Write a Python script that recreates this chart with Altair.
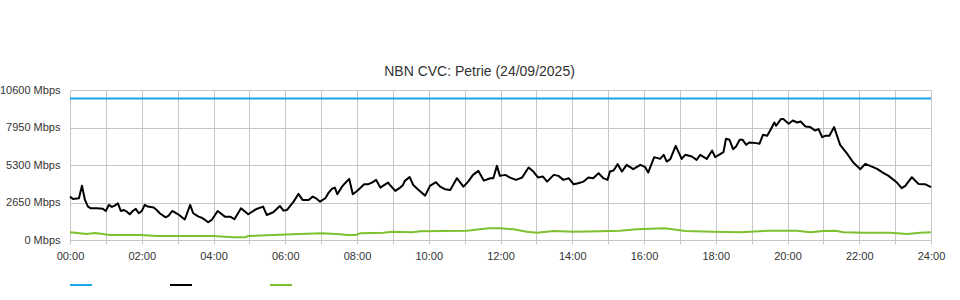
import altair as alt
import pandas as pd

# ---- data (minutes since midnight, Mbps) ----
capacity_min = [0, 1440]
capacity_val = [10000, 10000]

download_min = [0, 5, 15, 20, 25, 30, 35, 45, 55, 60, 65, 70, 75, 80, 85, 90, 95, 100, 105, 110,
                115, 120, 125, 130, 140, 145, 150, 160, 165, 171, 178, 184, 192, 201, 206, 215, 220,
                226, 231, 237, 247, 254, 259, 268, 275, 286, 298, 312, 323, 329, 340, 351, 357, 363,
                374, 382, 389, 399, 406, 413, 418, 427, 432, 438, 443, 447, 455, 460, 467, 473, 480,
                485, 492, 499, 505, 512, 519, 524, 532, 535, 544, 551, 557, 560, 568, 574, 583, 594,
                602, 612, 619, 627, 636, 647, 658, 666, 674, 683, 692, 703, 708, 714, 719, 728, 736,
                746, 756, 767, 775, 783, 791, 798, 809, 817, 825, 834, 842, 850, 859, 867, 875, 884,
                892, 899, 903, 909, 916, 923, 931, 942, 954, 962, 967, 977, 987, 993, 998, 1004, 1013,
                1023, 1029, 1040, 1048, 1054, 1065, 1074, 1079, 1093, 1097, 1103, 1109, 1114, 1120,
                1125, 1131, 1136, 1148, 1153, 1159, 1166, 1171, 1178, 1181, 1189, 1193, 1202, 1209,
                1216, 1222, 1230, 1238, 1246, 1252, 1258, 1263, 1270, 1278, 1288, 1299, 1310, 1322,
                1330, 1338, 1350, 1358, 1369, 1383, 1391, 1397, 1408, 1419, 1430, 1440]
download_val = [3066, 2900, 2950, 3840, 2830, 2360, 2240, 2240, 2200, 2050, 2480, 2340, 2430, 2600,
                2050, 2120, 2000, 1820, 2050, 2200, 1890, 2050, 2480, 2360, 2290, 2120, 1890, 1600,
                1720, 2050, 1890, 1720, 1450, 2478, 1889, 1650, 1580, 1416, 1253, 1416, 2053, 1818,
                1650, 1650, 1465, 2244, 1818, 2195, 2358, 1770, 1960, 2407, 2075, 2124, 2712, 3257,
                2832, 2832, 3066, 2903, 2712, 2952, 3306, 3611, 3703, 3235, 3774, 4014, 4319, 3235,
                3469, 3660, 3944, 3944, 4057, 4248, 3703, 3844, 4057, 3894, 3469, 3660, 3894, 4177,
                4450, 3894, 3540, 3136, 3822, 4085, 3774, 3589, 3540, 4368, 3774, 4127, 4602, 4885,
                4198, 4368, 4368, 5239, 4531, 4602, 4410, 4248, 4410, 5119, 4836, 4410, 4481, 4127,
                4602, 4531, 4248, 4368, 3944, 4014, 4128, 4411, 4368, 4722, 4368, 4248, 4836, 4906,
                5360, 4836, 5310, 5006, 5310, 5147, 4765, 5855, 5735, 6018, 5544, 5714, 6655, 5735,
                6018, 5898, 5664, 6018, 5735, 6322, 5855, 6209, 7151, 7080, 6422, 6606, 7080, 7080,
                6726, 6889, 6846, 6797, 7434, 7363, 7738, 8305, 8071, 8546, 8546, 8213, 8446, 8305,
                8376, 8022, 7979, 7738, 7838, 7271, 7363, 7363, 7979, 6726, 6138, 5473, 5006, 5381,
                5239, 5027, 4793, 4531, 4057, 3660, 3823, 4439, 3965, 3944, 3731]

upload_min = [0, 28, 42, 67, 117, 147, 179, 239, 273, 293, 298, 340, 373, 421, 452, 463, 478, 485,
              524, 538, 572, 586, 664, 700, 719, 742, 764, 781, 809, 842, 887, 920, 948, 959, 995,
              1029, 1076, 1121, 1171, 1216, 1238, 1260, 1280, 1294, 1327, 1372, 1400, 1422, 1440]
upload_val = [545, 425, 496, 354, 354, 283, 283, 283, 190, 190, 283, 354, 400, 472, 400, 354, 354,
              472, 520, 590, 545, 614, 660, 826, 826, 755, 590, 520, 637, 590, 614, 660, 755, 779,
              826, 637, 590, 545, 660, 660, 545, 637, 660, 545, 520, 520, 425, 520, 545]

series_names = ["Capacity", "Download", "Upload"]
series_colors = ["#19a7ea", "#000000", "#7dc12f"]
series_widths = [2, 2, 2.5]

y_ticks = [0, 2650, 5300, 7950, 10600]
x_ticks = list(range(0, 25))

title_text = "NBN CVC: Petrie (24/09/2025)"

# ---- build table ----
rows = []
for name, mins, vals in [("Capacity", capacity_min, capacity_val),
                         ("Download", download_min, download_val),
                         ("Upload", upload_min, upload_val)]:
    for m, v in zip(mins, vals):
        rows.append({"series": name, "hour": m / 60.0, "value": v})
df = pd.DataFrame(rows)

grid_col = "#c6c6c6"

chart = (
    alt.Chart(df)
    .mark_line(interpolate="linear", strokeJoin="round")
    .encode(
        x=alt.X(
            "hour:Q",
            scale=alt.Scale(domain=[0, 24], nice=False, zero=False),
            axis=alt.Axis(
                values=x_ticks,
                labelExpr="datum.value % 2 == 0 ? (datum.value < 10 ? '0' : '') + datum.value + ':00' : ''",
                title=None,
                tickSize=4,
                labelPadding=6,
                labelFlush=False,
                labelOverlap=False,
            ),
        ),
        y=alt.Y(
            "value:Q",
            scale=alt.Scale(domain=[0, 10600], nice=False),
            axis=alt.Axis(
                values=y_ticks,
                labelExpr="datum.value + ' Mbps'",
                title=None,
                ticks=False,
                domain=False,
                labelPadding=10,
            ),
        ),
        color=alt.Color(
            "series:N",
            scale=alt.Scale(domain=series_names, range=series_colors),
            legend=alt.Legend(
                orient="none",
                legendX=-1,
                legendY=183,
                direction="horizontal",
                title=None,
                labelExpr="''",
                symbolType="stroke",
                symbolSize=484,
                symbolStrokeWidth=2,
                labelOffset=0,
                columnPadding=70,
                padding=0,
            ),
        ),
        strokeWidth=alt.StrokeWidth(
            "series:N",
            scale=alt.Scale(domain=series_names, range=series_widths),
            legend=None,
        ),
        order=alt.Order("hour:Q"),
    )
    .properties(
        width=861,
        height=150,
        autosize=alt.AutoSizeParams(type="none"),
        padding={"left": 70, "top": 90, "right": 29, "bottom": 60},
        title=alt.TitleParams(
            title_text,
            font="Liberation Sans",
            fontSize=14,
            fontWeight="normal",
            color="#333333",
            anchor="middle",
            dx=-21,
            offset=-6,
            baseline="alphabetic",
        ),
        background="white",
    )
    .configure_view(strokeWidth=0)
    .configure_axis(
        gridColor=grid_col,
        gridWidth=1,
        domainColor=grid_col,
        tickColor=grid_col,
        labelFont="Liberation Sans",
        labelFontSize=11,
        labelColor="#333333",
    )
)

chart.save("out.html", embed_options={"renderer": "svg", "actions": False})
